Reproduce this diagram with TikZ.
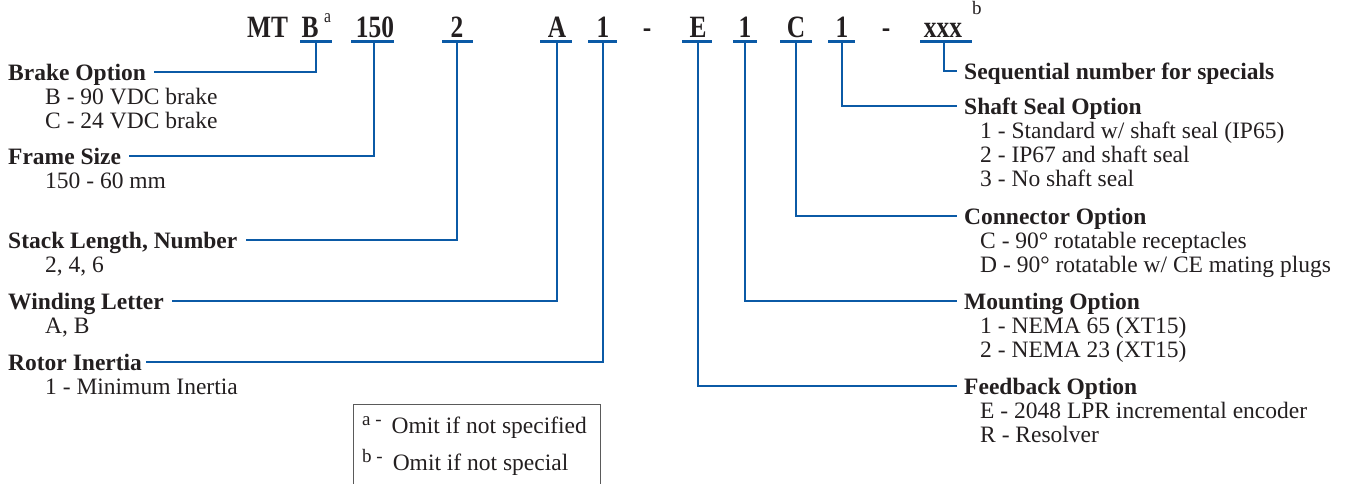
\documentclass[tikz,border=0pt]{standalone}
\usepackage{fontspec}
\setmainfont{Liberation Serif}
\newfontfamily\codefont[FakeStretch=0.82]{Liberation Serif}
\definecolor{txt}{HTML}{231F20}
\definecolor{bl}{HTML}{0B5AA6}
\definecolor{boxc}{HTML}{5A5A5A}
\begin{document}
\begin{tikzpicture}[x=1pt,y=-1pt,
  hd/.style={anchor=base west, inner sep=0pt, font=\fontsize{23.5}{24}\selectfont\bfseries, text=txt, text height=16pt, text depth=0pt},
  itm/.style={anchor=base west, inner sep=0pt, font=\fontsize{23.5}{24}\selectfont, text=txt},
  cd/.style={anchor=base, inner sep=0pt, font=\fontsize{31}{31}\selectfont\codefont\bfseries, text=txt},
  sup/.style={anchor=base west, inner sep=0pt, text=txt},
  ln/.style={draw=bl, line width=2.5pt},
  fn/.style={anchor=base west, inner sep=0pt, font=\fontsize{23.5}{24}\selectfont, text=txt}]
\useasboundingbox (0,0) rectangle (1365,483);
\clip (0,0) rectangle (1365,483);

% ---- code row ----
\node[cd] (cMT) at (267.5,37) {MT};
\node[cd] (cB) at (310,37) {B};
\node[sup, font=\fontsize{19}{19}\selectfont\codefont] (supa) at (324,22) {a};
\node[cd] (c150) at (375,37) {150};
\node[cd] (c2) at (457,37) {2};
\node[cd] (cA) at (557,37) {A};
\node[cd] (c1a) at (603,37) {1};
\node[cd] (d1) at (647,37) {-};
\node[cd] (cE) at (698,37) {E};
\node[cd] (c1b) at (745,37) {1};
\node[cd] (cC) at (796,37) {C};
\node[cd] (c1c) at (842,37) {1};
\node[cd] (d2) at (886,37) {-};
\node[cd] (cX) at (943,37) {xxx};
\node[sup, font=\fontsize{19}{19}\selectfont] (supb) at (972,14) {b};

% ---- underline stems ----
\coordinate (sB) at (316,41.5);
\coordinate (s150) at (374,41.5);
\coordinate (s2) at (457,41.5);
\coordinate (sA) at (557,41.5);
\coordinate (s1a) at (603,41.5);
\coordinate (sE) at (698,41.5);
\coordinate (s1b) at (745,41.5);
\coordinate (sC) at (796,41.5);
\coordinate (s1c) at (842,41.5);
\coordinate (sX) at (944,41.5);

\draw[ln] ([xshift=-16pt]sB) -- ([xshift=16pt]sB);
\draw[ln] ([xshift=-23pt]s150) -- ([xshift=20pt]s150);
\draw[ln] ([xshift=-15pt]s2) -- ([xshift=16pt]s2);
\draw[ln] ([xshift=-17pt]sA) -- ([xshift=15pt]sA);
\draw[ln] ([xshift=-15pt]s1a) -- ([xshift=14pt]s1a);
\draw[ln] ([xshift=-16pt]sE) -- ([xshift=14pt]sE);
\draw[ln] ([xshift=-12pt]s1b) -- ([xshift=12pt]s1b);
\draw[ln] ([xshift=-16pt]sC) -- ([xshift=16pt]sC);
\draw[ln] ([xshift=-14pt]s1c) -- ([xshift=13pt]s1c);
\draw[ln] ([xshift=-24pt]sX) -- ([xshift=28pt]sX);

% ---- left labels ----
\node[hd] (brake) at (8,80) {Brake Option};
\node[itm] (brake1) at (45,104) {B - 90 VDC brake};
\node[itm] (brake2) at (45,128) {C - 24 VDC brake};
\node[hd] (frame) at (8,164) {Frame Size};
\node[itm] (frame1) at (45,188) {150 - 60 mm};
\node[hd] (stack) at (8,248) {Stack Length, Number};
\node[itm] (stack1) at (45,272) {2, 4, 6};
\node[hd] (wind) at (8,309) {Winding Letter};
\node[itm] (wind1) at (45,333) {A, B};
\node[hd] (rotor) at (8,370) {Rotor Inertia};
\node[itm] (rotor1) at (45,394) {1 - Minimum Inertia};

% ---- right labels ----
\node[hd] (seq) at (964,79) {Sequential number for specials};
\node[hd] (shaft) at (964,114) {Shaft Seal Option};
\node[itm] (shaft1) at (980,138) {1 - Standard w/ shaft seal (IP65)};
\node[itm] (shaft2) at (980,162) {2 - IP67 and shaft seal};
\node[itm] (shaft3) at (980,186) {3 - No shaft seal};
\node[hd] (conn) at (964,224) {Connector Option};
\node[itm] (conn1) at (980,248) {C - 90\textdegree\ rotatable receptacles};
\node[itm] (conn2) at (980,272) {D - 90\textdegree\ rotatable w/ CE mating plugs};
\node[hd] (mount) at (964,309) {Mounting Option};
\node[itm] (mount1) at (980,333) {1 - NEMA 65 (XT15)};
\node[itm] (mount2) at (980,357) {2 - NEMA 23 (XT15)};
\node[hd] (fb) at (964,394) {Feedback Option};
\node[itm] (fb1) at (980,418) {E - 2048 LPR incremental encoder};
\node[itm] (fb2) at (980,442) {R - Resolver};

% ---- connectors ----
\draw[ln] (sB) |- ([xshift=8pt]brake.east);
\draw[ln] (s150) |- ([xshift=8pt]frame.east);
\draw[ln] (s2) |- ([xshift=8pt]stack.east);
\draw[ln] (sA) |- ([xshift=8pt]wind.east);
\draw[ln] (s1a) |- ([xshift=4pt]rotor.east);
\draw[ln] (sX) |- ([xshift=-7pt]seq.west);
\draw[ln] (s1c) |- ([xshift=-7pt]shaft.west);
\draw[ln] (sC) |- ([xshift=-7pt]conn.west);
\draw[ln] (s1b) |- ([xshift=-7pt]mount.west);
\draw[ln] (sE) |- ([xshift=-7pt]fb.west);

% ---- footnote box ----
\node[draw=boxc, line width=1.1pt, inner sep=0pt, minimum width=247pt, minimum height=100pt, anchor=north west] (fnbox) at (353,404) {};
\node[fn] (fna) at (362,433) {{\fontsize{19}{19}\selectfont\raisebox{8pt}{a -}}\hspace{10pt}Omit if not specified};
\node[fn] (fnb) at (362,470) {{\fontsize{19}{19}\selectfont\raisebox{8pt}{b -}}\hspace{10pt}Omit if not special};
\end{tikzpicture}
\end{document}
